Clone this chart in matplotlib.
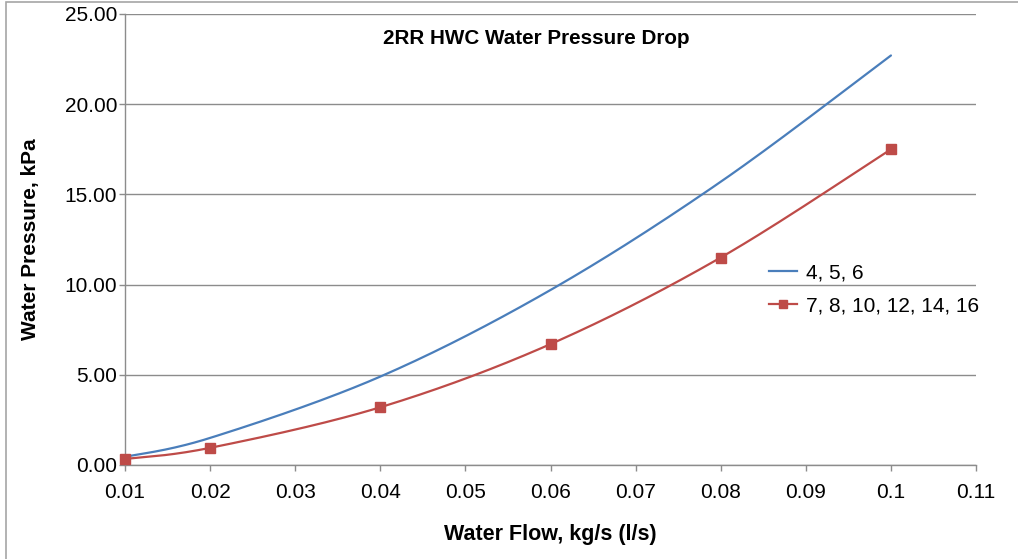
import matplotlib
matplotlib.use("Agg")
import matplotlib.pyplot as plt
from matplotlib.lines import Line2D
from matplotlib.patches import Rectangle
import numpy as np

plt.rcParams['font.family'] = ['Liberation Sans', 'DejaVu Sans']

flow_blue = [0.01, 0.02, 0.04, 0.06, 0.08, 0.1]
pressure_blue = [0.45, 1.5, 4.9, 9.7, 15.7, 22.7]

flow_red = [0.01, 0.02, 0.04, 0.06, 0.08, 0.1]
pressure_red = [0.33, 0.95, 3.2, 6.7, 11.5, 17.5]

label_blue = "4, 5, 6"
label_red = "7, 8, 10, 12, 14, 16"

x_ticks = [0.01, 0.02, 0.03, 0.04, 0.05, 0.06, 0.07, 0.08, 0.09, 0.1, 0.11]
x_tick_labels = ["0.01", "0.02", "0.03", "0.04", "0.05", "0.06", "0.07", "0.08", "0.09", "0.1", "0.11"]
y_ticks = [0, 5, 10, 15, 20, 25]

BLUE = '#4A7EBB'
RED = '#BE4B48'
GREY = '#8C8C8C'


def smooth(xs, ys, n=40):
    # Excel-style smoothed line: Catmull-Rom segments drawn as cubic Beziers
    p = np.column_stack([xs, ys]).astype(float)
    ext = np.vstack([p[0], p, p[-1]])
    t = np.linspace(0, 1, n)[:, None]
    out = []
    for i in range(1, len(ext) - 2):
        p0, p1, p2, p3 = ext[i - 1], ext[i], ext[i + 1], ext[i + 2]
        c1 = p1 + (p2 - p0) / 6
        c2 = p2 - (p3 - p1) / 6
        seg = ((1 - t) ** 3) * p1 + 3 * ((1 - t) ** 2) * t * c1 + 3 * (1 - t) * t ** 2 * c2 + t ** 3 * p2
        out.append(seg if i == 1 else seg[1:])
    out = np.vstack(out)
    return out[:, 0], out[:, 1]


fig = plt.figure(figsize=(10.18, 5.59), dpi=100)
ax = fig.add_axes([0.1228, 0.1682, 0.836, 0.8068])

bx, by = smooth(flow_blue, pressure_blue)
ax.plot(bx, by, color=BLUE, lw=1.6, solid_capstyle='round')
rx, ry = smooth(flow_red, pressure_red)
ax.plot(rx, ry, color=RED, lw=1.6, solid_capstyle='round')
ax.plot(flow_red, pressure_red, ls='none', marker='s', ms=7, color=RED, clip_on=False, zorder=4)

ax.set_xlim(0.01, 0.11)
ax.set_ylim(0, 25)
ax.set_xticks(x_ticks)
ax.set_xticklabels(x_tick_labels)
ax.set_yticks(y_ticks)
ax.set_yticklabels([f"{v:.2f}" for v in y_ticks])
ax.tick_params(axis='both', labelsize=15, color=GREY, length=4, width=1)
ax.tick_params(axis='x', pad=9)
ax.tick_params(axis='y', pad=1.5)

ax.grid(axis='y', color=GREY, lw=1)
ax.set_axisbelow(True)
for s in ['top', 'right']:
    ax.spines[s].set_visible(False)
for s in ['left', 'bottom']:
    ax.spines[s].set_color(GREY)
    ax.spines[s].set_linewidth(1)

ax.set_xlabel("Water Flow, kg/s (l/s)", fontsize=15.5, fontweight='bold', labelpad=16)
ax.set_ylabel("Water Pressure, kPa", fontsize=15, fontweight='bold', labelpad=17.5)
ax.text(0.483, 0.945, "2RR HWC Water Pressure Drop", transform=ax.transAxes,
        ha='center', va='center', fontsize=14.9, fontweight='bold')

handles = [Line2D([], [], color=BLUE, lw=1.6),
           Line2D([], [], color=RED, lw=1.6, marker='s', ms=6)]
ax.legend(handles, [label_blue, label_red], loc='upper left',
          bbox_to_anchor=(0.747, 0.466), frameon=False, fontsize=15,
          handlelength=1.35, handletextpad=0.43, labelspacing=0.7, borderaxespad=0)

fig.patches.append(Rectangle((0.006, -0.02), 1.05, 1.016, transform=fig.transFigure,
                             fill=False, edgecolor='#A6A6A6', lw=1.2))

fig.savefig("out.png", dpi=100)
